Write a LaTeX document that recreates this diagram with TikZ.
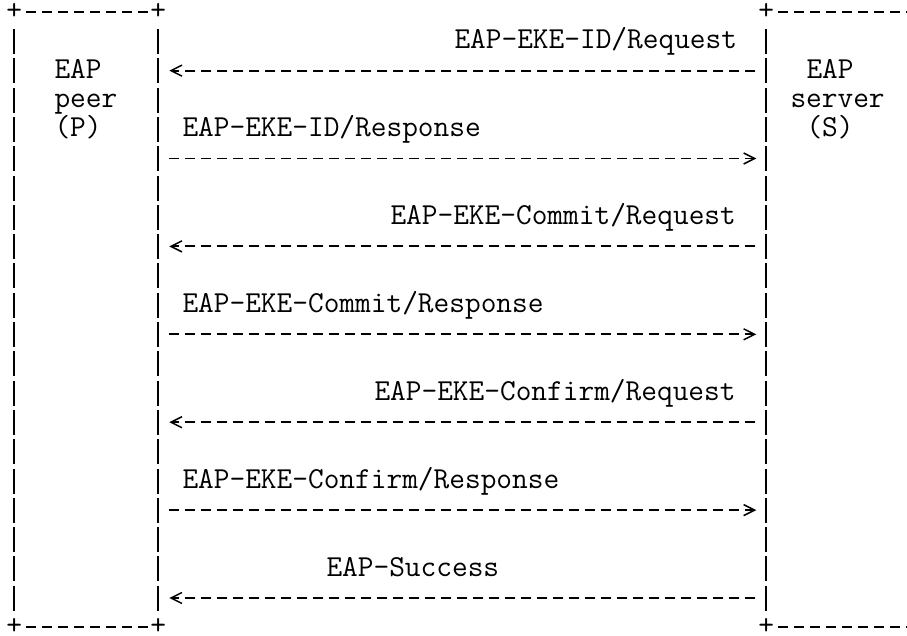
\documentclass[tikz,border=0pt]{standalone}
\usepackage{tikz}
\usetikzlibrary{arrows.meta}

\begin{document}
\begin{tikzpicture}[x=1pt,y=-1pt,
		every node/.style={font=\ttfamily\fontsize{30.48}{30}\selectfont,inner sep=0pt,text height=22.27pt,text depth=7.03pt},
		corner/.style={minimum width=16pt,text height=15.24pt,text depth=0pt},
		hline/.style={line width=1.9pt,dash pattern=on 10pt off 6pt,dash phase=13pt},
		vline/.style={line width=1.9pt,dash pattern=on 25pt off 4.3pt,dash phase=27.15pt,shorten <=7.03pt,shorten >=7.03pt},
		msg/.style={hline,shorten <=8pt,-{Straight Barb[length=11pt,width=11pt,line width=1.5pt,sep=1pt]}}]
	\useasboundingbox (0,0) rectangle (907,635);
	\clip (0,0) rectangle (907,635);
	\node[corner] (pTL) at (14.3,12) {+};
	\node[corner] (pTR) at (158.3,12) {+};
	\node[corner] (pBL) at (14.3,627.3) {+};
	\node[corner] (pBR) at (158.3,627.3) {+};
	\node[corner] (sTL) at (766.3,12) {+};
	\node[corner] (sBL) at (766.3,627.3) {+};
	\coordinate (sTR) at (907,12);
	\coordinate (sBR) at (907,627.3);
	\draw[hline] (pTL) -- (pTR);
	\draw[hline] (pBL) -- (pBR);
	\draw[hline] (sTL) -- (sTR);
	\draw[hline] (sBL) -- (sBR);
	\draw[vline] (pTL) -- (pBL);
	\draw[vline] (pTR) -- (pBR);
	\draw[vline] (sTL) -- (sBL);
	\node[anchor=west] (peerA) at (54.3,70.6) {EAP};
	\node[anchor=west] (peerB) at (54.3,99.9) {peer};
	\node[anchor=west] (peerC) at (54.3,129.2) {(P)};
	\node[anchor=west] (srvA) at (806.3,70.6) {EAP};
	\node[anchor=west] (srvB) at (790.3,99.9) {server};
	\node[anchor=west] (srvC) at (806.3,129.2) {(S)};
	\foreach \r/\y in {2/70.6,5/158.5,8/246.4,11/334.3,14/422.2,17/510.1,20/598}{
		\coordinate (p\r) at (158.3,\y);
		\coordinate (s\r) at (766.3,\y);
	}
	\node[anchor=west] (idreq) at (454.3,41.3) {EAP-EKE-ID/Request};
	\draw[msg,shorten >=10pt] (s2) -- (p2);
	\node[anchor=west] (idres) at (182.3,129.2) {EAP-EKE-ID/Response};
	\draw[msg,shorten >=9pt] (p5) -- (s5);
	\node[anchor=west] (commitreq) at (390.3,217.1) {EAP-EKE-Commit/Request};
	\draw[msg,shorten >=10pt] (s8) -- (p8);
	\node[anchor=west] (commitres) at (182.3,305) {EAP-EKE-Commit/Response};
	\draw[msg,shorten >=9pt] (p11) -- (s11);
	\node[anchor=west] (confirmreq) at (374.3,392.9) {EAP-EKE-Confirm/Request};
	\draw[msg,shorten >=10pt] (s14) -- (p14);
	\node[anchor=west] (confirmres) at (182.3,480.8) {EAP-EKE-Confirm/Response};
	\draw[msg,shorten >=9pt] (p17) -- (s17);
	\node[anchor=west] (success) at (326.3,568.7) {EAP-Success};
	\draw[msg,shorten >=10pt] (s20) -- (p20);
\end{tikzpicture}
\end{document}
